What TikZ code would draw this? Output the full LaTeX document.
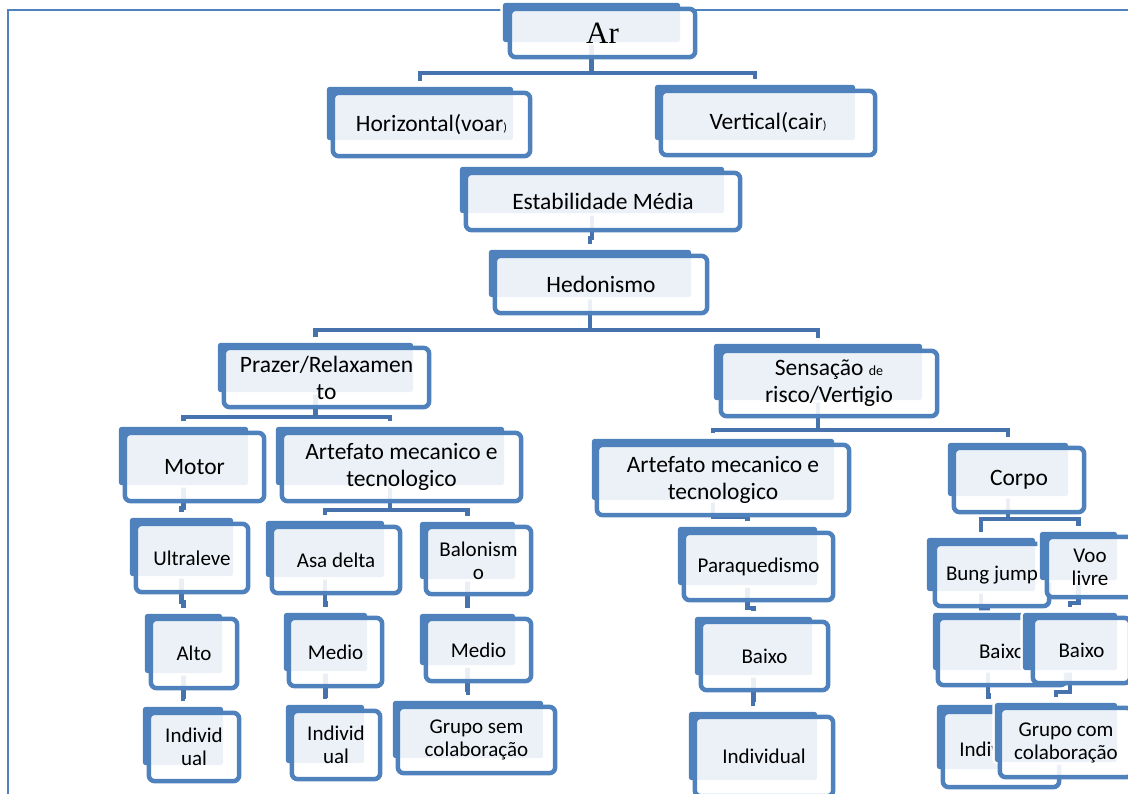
\documentclass[tikz,border=0pt]{standalone}
\usepackage{fontspec}
\setmainfont{Carlito}
\newfontfamily\serifar{Liberation Serif}
\usetikzlibrary{fit,calc}
\definecolor{acc}{HTML}{4F81BD}
\definecolor{conc}{HTML}{4672AD}
\tikzset{
  backring/.style={draw=white, line width=5pt, rounded corners=3pt},
  backbox/.style={fill=acc, rounded corners=3pt},
  frontbox/.style={draw=acc, line width=4.5pt, fill=white, fill opacity=0.89, rounded corners=6pt},
  conn/.style={draw=conc, line width=4.5pt, shorten >=6pt},
  bigtxt/.style={font=\fontsize{23.5}{27}\selectfont, align=center, text=black, inner sep=0pt},
  smalltxt/.style={font=\fontsize{21}{23}\selectfont, align=center, text=black, inner sep=0pt},
  artxt/.style={font=\serifar\fontsize{31}{31}\selectfont, text=black, inner sep=0pt},
  frameline/.style={draw=acc, line width=2pt},
}
\newcommand\myDefBox[9]{%
  \coordinate (#1-a) at (#2,#3); \coordinate (#1-b) at (#4,#5);
  \node[fit=(#1-a)(#1-b), inner sep=0pt] (#1) {};
  \coordinate (#1-c) at (#6,#7); \coordinate (#1-d) at (#8,#9);
  \node[fit=(#1-c)(#1-d), inner sep=0pt] (#1-f) {};
}
\newcommand\myDrawBox[3]{%
  \draw[backring] (#1.north west) rectangle (#1.south east);
  \fill[backbox] (#1.north west) rectangle (#1.south east);
  \draw[frontbox] (#1-f.north west) rectangle (#1-f.south east);
  \node[#2] (#1-t) at (#1-f.center) {#3};
}
\newcommand\myBusConn[4]{%
  \draw[conn] (#1.south) -- (#1.south |- 0,#2) -| (#3.north);
  \draw[conn] (#1.south |- 0,#2) -| (#4.north);
}
\newcommand\mySingleConn[3]{%
  \draw[conn] (#1.south) -- (#1.south |- 0,#3) -| (#2.north);
}
\begin{document}
\begin{tikzpicture}[x=1pt,y=-1pt]
\useasboundingbox (0,0) rectangle (1128,794);
\clip (0,0) rectangle (1128,794);
% box geometry: back (x1,y1,x2,y2), front (x1,y1,x2,y2)
\myDefBox{ar}{503}{3}{680}{42}{510}{9}{695}{57}
\myDefBox{hor}{327}{87}{513}{140}{333}{93}{530}{156}
\myDefBox{ver}{655}{85}{855}{140}{661}{91}{875}{155}
\myDefBox{est}{460}{167}{724}{213}{466}{173}{740}{230}
\myDefBox{hed}{489}{250}{691}{297}{495}{256}{707}{313}
\myDefBox{pra}{218}{343}{413}{392}{224}{348}{429}{407}
\myDefBox{sen}{714}{344}{922}{400}{721}{351}{937}{416}
\myDefBox{mot}{119}{427}{248}{485}{125}{433}{264}{501}
\myDefBox{arta}{276}{427}{504}{485}{282}{433}{521}{501}
\myDefBox{artb}{592}{439}{834}{500}{597}{445}{849}{515}
\myDefBox{cor}{948}{443}{1068}{496}{954}{448}{1084}{512}
\myDefBox{ult}{130}{518}{233}{576}{136}{524}{248}{592}
\myDefBox{asa}{266}{521}{384}{577}{272}{527}{400}{593}
\myDefBox{bal}{420}{522}{515}{579}{426}{527}{531}{594}
\myDefBox{par}{678}{527}{817}{585}{684}{533}{833}{600}
\myDefBox{bun}{927}{538}{1035}{591}{935}{544}{1049}{606}
\myDefBox{voo}{1040}{532}{1117}{580}{1047}{537}{1133}{597}
\myDefBox{alt}{145}{614}{222}{673}{151}{619}{237}{688}
\myDefBox{meda}{284}{613}{367}{671}{289}{618}{382}{686}
\myDefBox{medb}{420}{614}{515}{665}{426}{619}{531}{681}
\myDefBox{baia}{695}{617}{812}{675}{701}{622}{828}{690}
\myDefBox{baib}{933}{613}{1043}{670}{938}{618}{1066}{685}
\myDefBox{baic}{1023}{613}{1117}{670}{1033}{618}{1130}{683}
\myDefBox{inda}{143}{707}{223}{765}{149}{713}{239}{781}
\myDefBox{indb}{286}{705}{364}{763}{292}{711}{380}{779}
\myDefBox{grs}{393}{701}{543}{758}{398}{707}{555}{773}
\myDefBox{indc}{689}{712}{817}{780}{695}{717}{833}{796}
\myDefBox{indd}{937}{705}{1040}{769}{943}{712}{1059}{787}
\myDefBox{grc}{995}{703}{1117}{762}{1000}{708}{1132}{777}
% page frame
\coordinate (fr-tr) at (1128,10);
\coordinate (fr-tl) at (8,10);
\coordinate (fr-bl) at (8,794);
\draw[frameline] (fr-tr) -- (fr-tl) -- (fr-bl);
% connectors
\myBusConn{ar}{73}{hor}{ver}
\mySingleConn{est}{hed}{238}
\myBusConn{hed}{330}{pra}{sen}
\myBusConn{pra}{417}{mot}{arta}
\myBusConn{sen}{430}{artb}{cor}
\myBusConn{arta}{510}{asa}{bal}
\myBusConn{cor}{519}{bun}{voo}
\mySingleConn{mot}{ult}{508}
\mySingleConn{artb}{par}{517}
\mySingleConn{ult}{alt}{602}
\mySingleConn{asa}{meda}{603}
\mySingleConn{bal}{medb}{604}
\mySingleConn{par}{baia}{608}
\mySingleConn{bun}{baib}{609}
\mySingleConn{voo}{baic}{603}
\mySingleConn{alt}{inda}{697}
\mySingleConn{meda}{indb}{696}
\mySingleConn{medb}{grs}{690}
\mySingleConn{baia}{indc}{700}
\mySingleConn{baib}{indd}{695}
\mySingleConn{baic}{grc}{692}
% boxes
\myDrawBox{ar}{artxt}{Ar}
\myDrawBox{hor}{bigtxt}{Horizontal(voar{\fontsize{12}{12}\selectfont)}}
\myDrawBox{ver}{bigtxt}{Vertical(cair{\fontsize{12}{12}\selectfont)}}
\myDrawBox{est}{bigtxt}{Estabilidade Média}
\myDrawBox{hed}{bigtxt}{Hedonismo}
\myDrawBox{pra}{bigtxt}{Prazer/Relaxamen\\to}
\myDrawBox{sen}{bigtxt}{Sensação {\fontsize{14}{14}\selectfont de}\\risco/Vertigio}
\myDrawBox{mot}{bigtxt}{Motor}
\myDrawBox{arta}{bigtxt}{Artefato mecanico e\\tecnologico}
\myDrawBox{artb}{bigtxt}{Artefato mecanico e\\tecnologico}
\myDrawBox{cor}{bigtxt}{Corpo}
\myDrawBox{ult}{smalltxt}{Ultraleve}
\myDrawBox{asa}{smalltxt}{Asa delta}
\myDrawBox{bal}{smalltxt}{Balonism\\o}
\myDrawBox{par}{smalltxt}{Paraquedismo}
\myDrawBox{bun}{smalltxt}{Bung jump}
\myDrawBox{voo}{smalltxt}{Voo\\livre}
\myDrawBox{alt}{smalltxt}{Alto}
\myDrawBox{meda}{smalltxt}{Medio}
\myDrawBox{medb}{smalltxt}{Medio}
\myDrawBox{baia}{smalltxt}{Baixo}
\myDrawBox{baib}{smalltxt}{Baixo}
\myDrawBox{baic}{smalltxt}{Baixo}
\myDrawBox{inda}{smalltxt}{Individ\\ual}
\myDrawBox{indb}{smalltxt}{Individ\\ual}
\myDrawBox{grs}{smalltxt}{Grupo sem\\colaboração}
\myDrawBox{indc}{smalltxt}{Individual}
\myDrawBox{indd}{smalltxt}{Individual}
\myDrawBox{grc}{smalltxt}{Grupo com\\colaboração}
\end{tikzpicture}
\end{document}
